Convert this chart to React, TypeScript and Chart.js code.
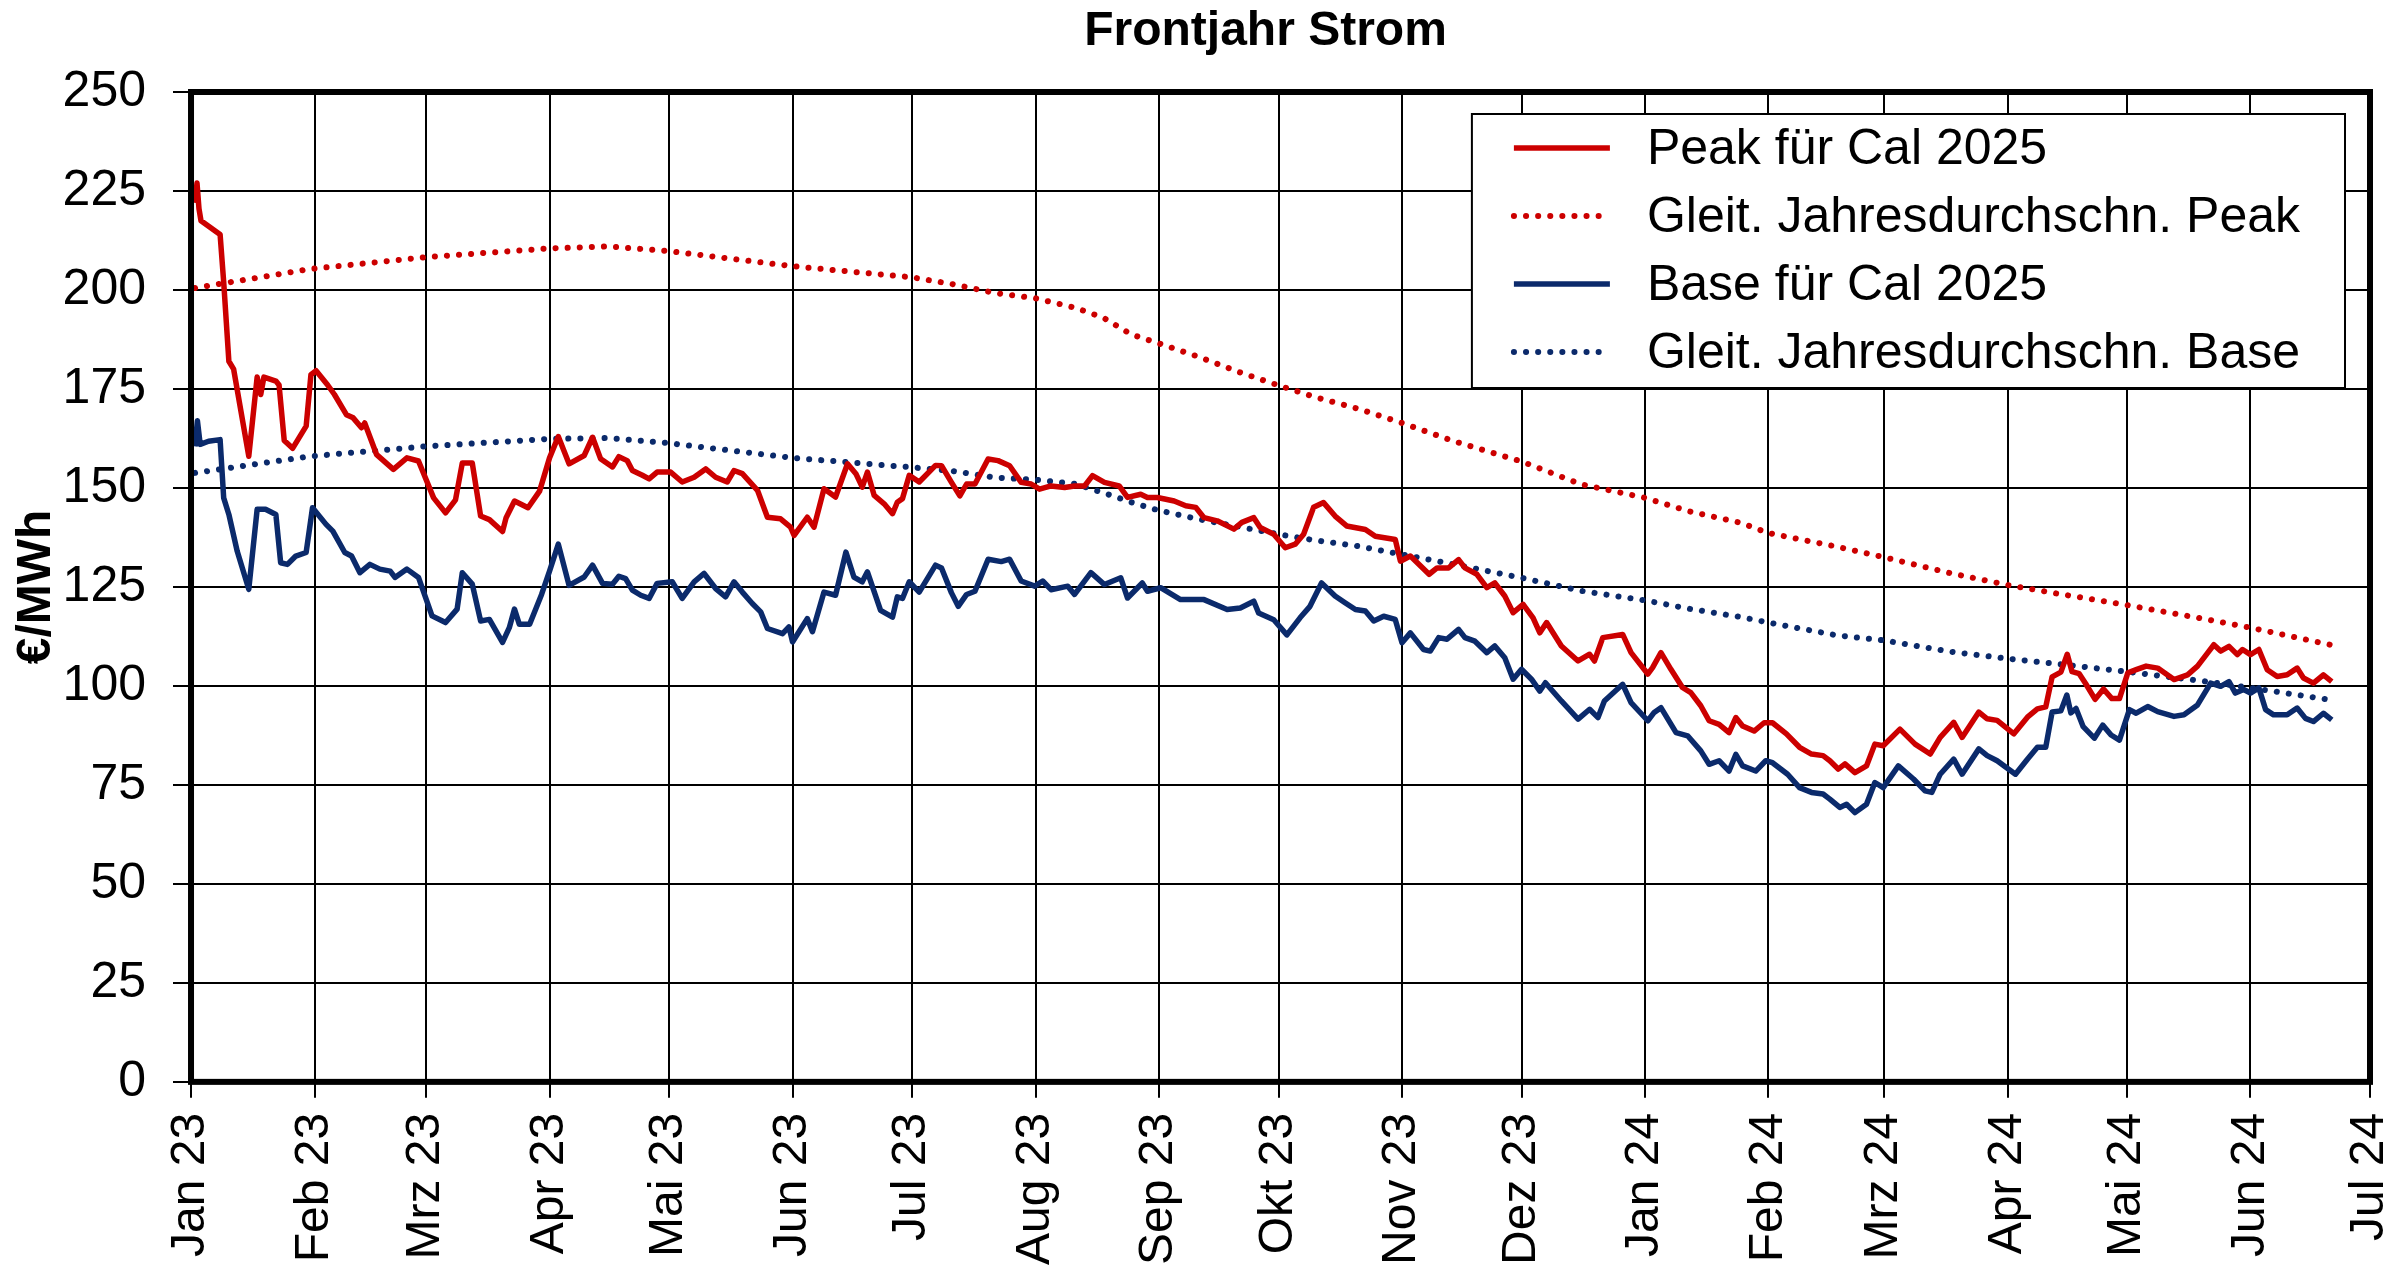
import { useEffect, useRef } from "react"
import { Chart, registerables } from "chart.js"

// Register Chart.js components
Chart.register(...registerables)

const fontFamily = '"Liberation Sans", Arial, sans-serif'

const chartTitle = "Frontjahr Strom"
const yAxisTitle = "€/MWh"

// Month ticks on the x axis (first day of each month)
const monthTickLabels = [
  "Jan 23", "Feb 23", "Mrz 23", "Apr 23", "Mai 23", "Jun 23", "Jul 23", "Aug 23", "Sep 23",
  "Okt 23", "Nov 23", "Dez 23", "Jan 24", "Feb 24", "Mrz 24", "Apr 24", "Mai 24", "Jun 24", "Jul 24",
]
// days since 1 Jan 2023
const monthTickDays = monthTickLabels.map((_, i) =>
  Math.round((Date.UTC(2023, i, 1) - Date.UTC(2023, 0, 1)) / 86400000)
)

const seriesLabels = [
  "Peak für Cal 2025",
  "Gleit. Jahresdurchschn. Peak",
  "Base für Cal 2025",
  "Gleit. Jahresdurchschn. Base",
]

// Peak für Cal 2025 (x = days since 1 Jan 2023)
const peakDays = [
  1, 1.5, 2, 2.5, 7.3, 8.2, 9.5, 10.7, 14.5, 16.6, 17.5, 18.3, 21.3, 22.1, 23.4, 25.5, 28.9, 30.1, 31.4, 34.3,
  36, 39, 40.7, 42.8, 43.6, 46.6, 50.8, 54.2, 57.1, 60.9, 63.9, 66.4, 68.1, 70.6, 72.7, 74.9, 78.2, 79.1, 81.2, 84.6,
  87.5, 90, 92.2, 94.9, 98.7, 100.8, 102.8, 105.8, 107.4, 109.5, 110.8, 113.3, 115, 117, 120.4, 123.3, 126.3, 129.2, 131.7, 134.6,
  136.3, 138.4, 142.2, 144.7, 148, 150.5, 151.4, 154.7, 156.4, 158.9, 161.8, 164.8, 166.9, 168.5, 169.8, 171.5, 174, 176.1, 177.3, 178.6,
  180.3, 182.8, 186.9, 188.4, 190.9, 193, 194.7, 196.8, 200.1, 202.6, 205.5, 208.4, 210.9, 213, 215.9, 219.3, 221.8, 224.3, 226.3, 229.3,
  233, 235.1, 238.4, 240.1, 242.6, 246.8, 249.7, 252.2, 254.3, 257.6, 261.8, 263.8, 266.8, 268.4, 271.8, 274.7, 277.2, 279.3, 281.8, 284.3,
  287.2, 290.1, 294.8, 297.3, 302.3, 303.6, 306.1, 310.8, 312.8, 315.7, 318.2, 319.8, 322.8, 325.3, 327.3, 329.8, 331.9, 334.4, 336.9, 338.6,
  340.3, 344, 348.2, 351.1, 352.3, 354.4, 359.4, 361.5, 365.7, 366.9, 369, 371.5, 374.4, 376.5, 379, 381.1, 383.6, 386.1, 387.8, 389.5,
  392.4, 394.9, 397, 400.5, 403.8, 406.8, 409.7, 411.4, 413.5, 415.2, 417.7, 420.6, 422.7, 424.8, 429, 432.8, 436.6, 439.1, 442.5, 444.6,
  448.8, 450.9, 453.4, 457.6, 461, 463.5, 465.6, 467.2, 469.4, 471, 472.2, 474, 475.6, 478, 480.1, 482.2, 484.1, 486.2, 488.3, 490.8,
  493.7, 497.8, 501.2, 503.7, 506.2, 507.8, 509.5, 511.6, 513.7, 515, 517, 519.1, 521.2, 523.7, 526.2, 528.7, 530.3, 532.8, 535.3, 537.4,
]
const peakValues = [
  222, 227, 220.5, 217.5, 214, 202, 182, 180, 158, 178, 173.6, 178, 177, 176, 162, 160, 165.6, 178.6, 179.6, 176,
  173.6, 168.5, 167.7, 165.2, 166.4, 158.4, 154.7, 157.6, 156.8, 147.5, 143.7, 147, 156.3, 156.3, 142.9, 142, 139, 142.5, 146.7, 145,
  149.2, 157.6, 163, 156.1, 158.2, 162.8, 157.4, 155.3, 157.9, 156.9, 154.4, 153.2, 152.3, 154, 154, 151.5, 152.7, 154.8, 152.7, 151.5,
  154.4, 153.6, 149.4, 142.6, 142.2, 140.1, 138, 142.6, 140.1, 149.8, 147.7, 156.1, 153.6, 150.2, 154, 148.1, 146, 143.5, 146.4, 147.3,
  153.2, 151.5, 155.7, 155.6, 151.4, 148, 151, 151, 157.3, 156.9, 155.6, 151.4, 151, 149.7, 150.5, 150.1, 150.5, 150.5, 153.1, 151.4,
  150.5, 147.6, 148.4, 147.6, 147.6, 146.7, 145.5, 145.1, 142.5, 141.7, 139.6, 141.3, 142.5, 140, 138.3, 134.9, 135.8, 138.3, 145.1, 146.3,
  142.9, 140.4, 139.5, 137.8, 137, 131.5, 132.8, 128.2, 129.8, 129.8, 131.9, 129.8, 128.2, 124.8, 126, 122.7, 118.5, 120.6, 117.2, 113.4,
  116, 110.1, 106.3, 108, 106.3, 112.2, 113, 108.4, 103, 104.6, 108.4, 104.2, 99.6, 98.3, 95, 91.2, 90.3, 88.2, 92, 89.9,
  88.6, 90.7, 90.7, 87.9, 84.5, 82.8, 82.4, 81.1, 79, 80.3, 78.1, 79.8, 85.3, 84.9, 89.1, 85.3, 82.8, 87, 90.8, 87,
  93.4, 91.7, 91.3, 87.9, 92.1, 94.2, 94.7, 102.3, 103.5, 108, 103.6, 103.1, 100.6, 96.6, 99.2, 96.8, 96.8, 103.3, 104.1, 105,
  104.5, 101.6, 102.8, 105, 108.3, 110.4, 108.8, 110, 107.9, 109.2, 107.9, 109.2, 104.1, 102.4, 102.8, 104.5, 102, 100.7, 102.8, 101.1,
]

// Base für Cal 2025 (x = days since 1 Jan 2023)
const baseDays = [
  1, 1.6, 2.3, 4.4, 7.3, 8.2, 9.5, 11.6, 14.5, 16.6, 18.7, 21.3, 22.5, 24.2, 26.3, 28.9, 30.5, 33.9, 35.6, 38.6,
  40.3, 42.4, 44.9, 47.4, 50, 51.2, 54.2, 57.1, 60.5, 63.9, 66.8, 68.1, 70.6, 72.7, 74.9, 78.2, 79.9, 81.2, 82.4, 85,
  88, 90, 92.2, 94.9, 98.7, 100.8, 103.3, 105.8, 107.4, 109.1, 110.8, 112.9, 115, 117, 120.8, 123.3, 126.3, 128.8, 131.7, 134.2,
  136.3, 138.4, 140.9, 143, 144.7, 148.5, 150.1, 151, 154.7, 156, 158.9, 161.8, 164.4, 166.4, 168.5, 169.8, 173.1, 176.1, 177.3, 178.6,
  180.3, 182.8, 186.9, 188.4, 190.9, 192.6, 194.7, 196.8, 200.1, 203.4, 205.5, 208.4, 211.8, 213.8, 215.9, 220.1, 221.8, 225.9, 229.3, 233.4,
  235.1, 238.8, 240.1, 243.4, 248.4, 254.3, 260.1, 263.4, 266.8, 268, 271.8, 275.1, 278.4, 280.9, 283.8, 287.2, 289.7, 292.3, 294.8, 296.9,
  299.4, 302.3, 304, 306.1, 309.4, 311.1, 313.2, 315.3, 318.2, 319.8, 322.3, 325.3, 327.3, 329.8, 331.9, 334, 336.5, 338.6, 340, 344,
  348.2, 351.1, 353.2, 354.8, 359.4, 361.5, 365.7, 367.3, 369, 372.8, 375.7, 379, 381.1, 383.6, 386.1, 387.8, 389.5, 392.8, 395.3, 397,
  400.8, 403.8, 406.8, 409.7, 411.4, 413.9, 415.6, 417.7, 420.6, 422.7, 424.8, 428.6, 432.4, 435.3, 437, 439.1, 442.5, 444.6, 448.8, 450.9,
  453.4, 458, 461, 463.5, 465.6, 467.2, 469.4, 470.9, 471.9, 473.2, 475, 477.8, 479.9, 482, 484.1, 486.6, 488.3, 491.2, 493.7, 497.8,
  500.3, 503.7, 507, 509.5, 511.6, 513.2, 515.3, 517, 519.1, 520.8, 522.8, 526.2, 528.7, 530.8, 532.8, 535.3, 537.4,
]
const baseValues = [
  160.5, 167, 161, 161.8, 162.2, 147.5, 143.3, 134, 124.4, 144.6, 144.6, 143.3, 131.1, 130.7, 132.8, 133.7, 145, 140.8, 139.1, 133.7,
  132.8, 128.6, 130.7, 129.5, 129, 127.4, 129.5, 127.4, 117.7, 116, 119.4, 128.6, 125.7, 116.4, 116.8, 111, 114.7, 119.4, 115.6, 115.6,
  123.1, 129, 135.8, 125.4, 127.5, 130.5, 125.9, 125.7, 127.7, 127.1, 124.2, 122.9, 122.1, 125.9, 126.3, 122.1, 126.3, 128.4, 124.6, 122.5,
  126.3, 123.7, 120.8, 118.7, 114.5, 113.2, 114.9, 111.1, 117, 113.7, 123.7, 122.9, 133.8, 127.5, 126.3, 128.8, 119.1, 117.4, 122.5, 122.1,
  126.3, 123.7, 130.5, 129.8, 123.5, 120.1, 123.1, 123.9, 132, 131.4, 132, 126.5, 125.2, 126.5, 124.3, 125.2, 123.1, 128.6, 125.6, 127.3,
  122.2, 126, 123.9, 124.8, 121.8, 121.8, 119.3, 119.7, 121.4, 118.4, 116.7, 112.9, 117.2, 120.1, 126, 122.7, 121, 119.3, 118.9, 116.4,
  117.6, 116.8, 110.9, 113.4, 109.2, 108.8, 112.2, 111.8, 114.3, 112.2, 111.3, 108.4, 110.1, 107.1, 101.7, 104.2, 101.7, 98.7, 100.8, 96.2,
  91.6, 94.1, 92, 96.2, 100.4, 95.8, 91.2, 93.3, 94.5, 88.2, 87.4, 83.6, 80.2, 81.1, 78.5, 82.7, 79.8, 78.5, 81.1, 80.6,
  77.7, 74.3, 73.1, 72.7, 71.4, 69.3, 70.1, 68, 70.1, 75.6, 74.3, 79.8, 76.5, 73.5, 73.1, 77.7, 81.5, 77.7, 84.1, 82.4,
  81.1, 77.7, 81.5, 84.5, 84.5, 93.4, 93.7, 97.7, 93.2, 94.3, 89.7, 86.8, 90.1, 87.6, 86.3, 94, 93.1, 94.8, 93.5, 92.3,
  92.7, 95.2, 100.7, 99.9, 101.1, 98.2, 99.1, 98.2, 99.5, 94, 92.7, 92.7, 94.4, 91.8, 91, 93.1, 91.4,
]

// Gleitende Jahresdurchschnitte (x = days since 1 Jan 2023)
const avgDays = [
  1, 30, 59, 90, 105, 120, 151, 181, 191, 202, 212, 222, 229, 236, 243, 253, 263, 273, 282, 293,
  304, 317, 334, 349, 365, 376, 389, 396, 413, 425, 442, 456, 468, 485, 506, 517, 537,
]
const peakAvgValues = [
  200.5, 205.3, 208.3, 210.5, 211, 209.8, 206, 203.2, 201.5, 199.2, 197.9, 195.5, 193, 188.8, 186.5, 183.1, 179.3, 175.9, 173, 170,
  166.4, 161.8, 156.7, 150.9, 147.5, 144.1, 141.2, 138.6, 135.2, 132.5, 128.4, 125.5, 123.4, 120.6, 116.8, 114.7, 110.4,
]
const baseAvgValues = [
  153.8, 158, 160.5, 162.4, 162.6, 161.3, 157.6, 155.2, 154.3, 152.6, 152.1, 151, 148.8, 146.4, 144.3, 142.1, 140.2, 138.3, 136.8, 135.3,
  133.2, 130.7, 127.3, 124, 121.6, 119.5, 117.4, 116, 112.8, 111.5, 108.6, 106.9, 105.6, 103.7, 101.1, 99.5, 96.5,
]

const yTickStep = 25
const yMax = 250

const peakColor = "#cc0000"
const baseColor = "#0b2a6b"

const toPoints = (xs: number[], ys: number[]) => xs.map((x, i) => ({ x, y: ys[i] }))

// frame, centered title and legend box inside the plot area
const decorations = {
  id: "decorations",
  afterDatasetsDraw(chart: any) {
    const { ctx, chartArea } = chart
    ctx.save()
    ctx.strokeStyle = "#000"
    ctx.lineWidth = 6
    ctx.strokeRect(chartArea.left, chartArea.top, chartArea.right - chartArea.left, chartArea.bottom - chartArea.top)
    ctx.restore()
  },
  afterDraw(chart: any) {
    const { ctx, chartArea } = chart
    ctx.save()

    // title
    ctx.fillStyle = "#000"
    ctx.font = `bold 48px ${fontFamily}`
    ctx.textAlign = "center"
    ctx.textBaseline = "alphabetic"
    ctx.fillText(chartTitle, (chartArea.left + chartArea.right) / 2 - 15, 45)

    // legend
    ctx.font = `50px ${fontFamily}`
    const datasets = chart.data.datasets
    const textWidth = Math.max(...datasets.map((d: any) => ctx.measureText(d.label).width))
    const width = 42 + 96 + 37 + textWidth + 45
    const height = 274
    const left = chartArea.right - 25 - width
    const top = chartArea.top + 22
    ctx.fillStyle = "#fff"
    ctx.fillRect(left, top, width, height)
    ctx.strokeStyle = "#000"
    ctx.lineWidth = 2
    ctx.strokeRect(left, top, width, height)

    datasets.forEach((d: any, i: number) => {
      const y = top + 34 + i * 68
      ctx.beginPath()
      ctx.setLineDash(d.borderDash || [])
      ctx.lineCap = d.borderCapStyle || "butt"
      ctx.lineWidth = d.borderWidth
      ctx.strokeStyle = d.borderColor
      ctx.moveTo(left + 42, y)
      ctx.lineTo(left + 138, y)
      ctx.stroke()
      ctx.setLineDash([])
      ctx.fillStyle = "#000"
      ctx.textAlign = "left"
      ctx.textBaseline = "middle"
      ctx.fillText(d.label, left + 175, y + 2)
    })
    ctx.restore()
  },
}

export default function App() {
  const chartRef = useRef<HTMLCanvasElement>(null)
  const chartInstance = useRef<Chart | null>(null)

  useEffect(() => {
    if (!chartRef.current) return

    if (chartInstance.current) {
      chartInstance.current.destroy()
    }

    const ctx = chartRef.current.getContext("2d")
    if (!ctx) return

    Chart.defaults.font.family = fontFamily
    Chart.defaults.color = "#000"

    const solid = { borderWidth: 5.5, pointRadius: 0, tension: 0, borderJoinStyle: "round" as const }
    const dotted = {
      borderWidth: 6,
      pointRadius: 0,
      tension: 0,
      borderDash: [0.1, 12],
      borderCapStyle: "round" as const,
    }

    chartInstance.current = new Chart(ctx, {
      type: "line",
      data: {
        datasets: [
          { label: seriesLabels[0], data: toPoints(peakDays, peakValues), borderColor: peakColor, ...solid },
          { label: seriesLabels[1], data: toPoints(avgDays, peakAvgValues), borderColor: peakColor, ...dotted },
          { label: seriesLabels[2], data: toPoints(baseDays, baseValues), borderColor: baseColor, ...solid },
          { label: seriesLabels[3], data: toPoints(avgDays, baseAvgValues), borderColor: baseColor, ...dotted },
        ],
      },
      options: {
        responsive: false,
        animation: false,
        devicePixelRatio: 1,
        events: [],
        layout: {
          padding: { top: 92, right: 30, bottom: 2, left: 0 },
        },
        plugins: {
          legend: { display: false },
          tooltip: { enabled: false },
          title: { display: false },
        },
        scales: {
          x: {
            type: "linear",
            min: monthTickDays[0],
            max: monthTickDays[monthTickDays.length - 1],
            afterBuildTicks: (scale: any) => {
              scale.ticks = monthTickDays.map((value) => ({ value }))
            },
            afterFit: (scale: any) => {
              scale.paddingLeft = 0
              scale.paddingRight = 0
            },
            grid: { color: "#000", lineWidth: 2, tickLength: 16 },
            border: { display: false },
            ticks: {
              autoSkip: false,
              maxRotation: 90,
              minRotation: 90,
              padding: 15,
              font: { size: 48 },
              color: "#000",
              callback: (value: any) => {
                const i = monthTickDays.indexOf(Number(value))
                return i >= 0 ? monthTickLabels[i] : ""
              },
            },
          },
          y: {
            min: 0,
            max: yMax,
            grid: { color: "#000", lineWidth: 2, tickLength: 18 },
            border: { display: false },
            ticks: {
              stepSize: yTickStep,
              padding: 27,
              font: { size: 50 },
              color: "#000",
            },
            title: {
              display: true,
              text: yAxisTitle,
              font: { size: 48, weight: "bold" },
              color: "#000",
              padding: { top: 8, bottom: -30 },
            },
          },
        },
      },
      plugins: [decorations],
    })

    return () => {
      if (chartInstance.current) {
        chartInstance.current.destroy()
        chartInstance.current = null
      }
    }
  }, [])

  return (
    <div style={{ position: "fixed", left: 0, top: 0, width: 2400, height: 1282, background: "#fff" }}>
      <canvas ref={chartRef} width={2400} height={1282} aria-label="Frontjahr Strom"></canvas>
    </div>
  )
}
